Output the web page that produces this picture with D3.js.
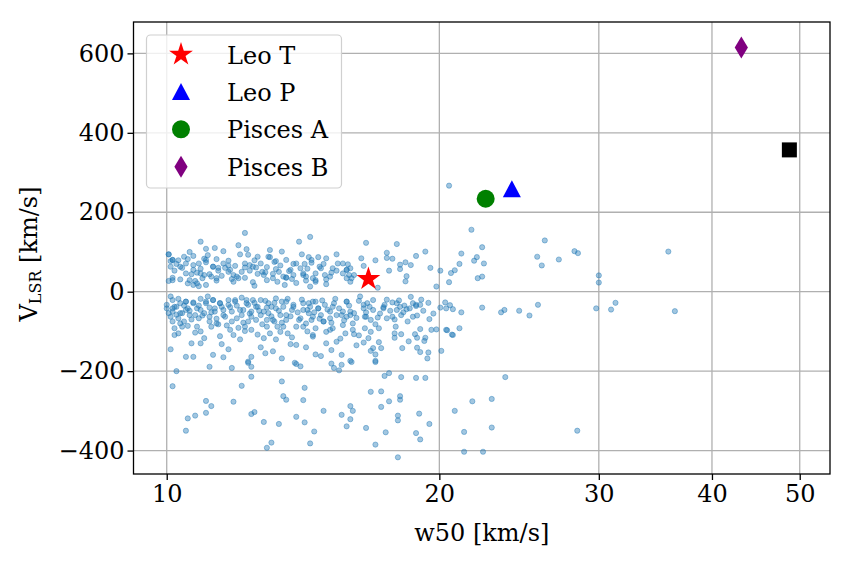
<!DOCTYPE html>
<html>
<head>
<meta charset="utf-8">
<script src="https://cdn.jsdelivr.net/npm/d3@7"></script>
<style>
  body { margin: 0; background: #fff; }
  svg text { font-family: "DejaVu Serif", serif; fill: #000; }
</style>
</head>
<body>
<div id="container"></div>
<script>
const width = 854,
  height = 562,
  margin = { left: 133.5, right: 24, top: 22, bottom: 88 };

/* DATA */
// background sample: [w50, vlsr]
const sample = [
  [12.2,148],[10.9,126],[12.0,117],[11.05,108],[12.25,107],[11.55,102],[10.05,94],[13.0,105],[14.0,126],[14.4,138],
  [13.4,101],[14.1,94],[14.7,87],[15.0,84],[15.4,94],[12.05,94],[12.3,93],[10.7,90],[10.55,82],[10.15,80],
  [10.1,77],[10.3,79],[11.0,83],[11.35,82],[11.7,78],[12.5,79],[13.0,87],[13.2,77],[13.55,80],[14.35,87],
  [12.7,71],[13.8,70],[14.45,73],[10.1,63],[10.2,53],[10.4,60],[10.7,67],[10.85,71],[11.05,74],[11.25,63],
  [11.4,60],[11.6,60],[11.9,65],[12.2,61],[12.35,67],[12.55,61],[13.2,57],[14.05,59],[14.3,58],[14.8,59],
  [15.25,59],[15.4,53],[10.5,46],[10.65,44],[10.8,48],[11.0,42],[11.15,44],[11.4,53],[11.7,50],[11.85,42],
  [12.35,53],[12.6,45],[12.85,49],[13.1,45],[13.3,50],[13.55,36],[13.8,42],[14.15,42],[14.6,46],[14.95,42],
  [10.15,35],[10.35,31],[10.6,29],[10.75,27],[10.95,34],[11.2,38],[10.7,17],[10.55,21],[10.05,27],[11.35,28],
  [11.8,32],[12.0,34],[12.2,35],[12.45,24],[12.5,15],[12.9,29],[13.25,25],[13.5,17],[13.55,35],[13.75,32],
  [14.25,38],[14.25,28],[14.5,34],[14.6,25],[14.4,13],[15.0,19],[15.0,31],[11.05,17],[10.85,14],
  [10.05,94],[10.15,80],[10.35,63],[10.5,71],[10.7,55],[10.9,46],[11.05,80],[11.25,63],[11.55,71],[11.75,55],
  [11.95,38],[12.2,71],[12.45,63],[12.75,50],[12.95,88],[13.15,75],[13.45,38],[13.7,55],[13.9,71],[14.15,46],
  [14.45,80],[14.75,63],[15.15,38],[15.45,71],[15.8,55],[16.0,34],[10.15,29],[10.8,21],[11.35,34],[11.85,25],
  [13.1,34],[14.6,29],
  [10.25,70],[10.45,88],[10.9,58],[11.1,92],[11.5,40],[11.7,66],[12.1,50],[12.6,88],[12.9,62],[13.35,66],
  [13.65,52],[14.2,70],[14.9,70],[15.2,48],[10.6,100],[11.3,110],[12.8,42],[13.9,22],
  [21.7,156],[16.6,123],[17.95,120],[22.3,112],[17.5,98],[19.3,101],[21.15,96],[16.4,84],[17.0,79],[17.5,85],
  [17.75,83],[18.85,90],[22.0,87],[21.85,78],[22.4,71],[15.65,71],[15.85,69],[18.1,68],[18.35,74],[18.6,67],
  [16.5,65],[15.95,59],[15.8,55],[19.55,60],[18.1,57],[17.6,53],[21.05,70],[20.8,54],[20.6,47],[20.05,53],
  [22.3,38],[22.05,34],[15.65,46],[15.9,42],[16.1,42],[15.8,34],[15.95,25],[18.4,39],[18.35,26],[17.1,10],
  [20.5,24],[19.85,13],[20.5,267],
  [26.15,129],[25.65,88],[25.95,66],[27.1,81],[28.2,102],[28.45,97],[30.0,41],[30.0,23],[35.8,101],
  [10.15,-21],[10.0,-42],[10.05,-54],[10.2,-38],[10.35,-29],[10.5,-46],[10.7,-27],[10.9,-18],[10.8,-42],[11.0,-54],
  [10.6,-59],[10.3,-67],[10.15,-75],[10.2,-92],[10.45,-75],[10.55,-86],[10.75,-103],[10.2,-109],[11.25,-21],[11.45,-29],
  [11.15,-40],[11.3,-50],[11.55,-46],[11.7,-33],[11.9,-21],[12.25,-21],[12.3,-33],[12.05,-46],[12.4,-50],[12.6,-38],
  [12.85,-23],[13.2,-17],[13.05,-38],[12.7,-59],[12.9,-71],[12.3,-75],[11.6,-63],[11.8,-75],[12.0,-91],[12.2,-99],
  [12.4,-96],[11.15,-75],[11.2,-88],[11.4,-82],[11.85,-109],[13.45,-38],[13.75,-46],[13.35,-59],[13.15,-75],[13.25,-88],
  [13.6,-105],[13.9,-88],[14.05,-67],[14.3,-46],[14.15,-29],[14.5,-25],[14.7,-42],[14.95,-33],[15.25,-38],[15.15,-67],
  [14.9,-75],[14.45,-71],[14.6,-92],[14.5,-113],[15.0,-101],[15.25,-92],[15.4,-126],[15.0,-130],[13.9,-134],[13.7,-132],
  [14.25,-140],[14.6,-158],[14.8,-162],[15.2,-147],[12.7,-140],[12.8,-117],[13.0,-105],[12.4,-164],[12.3,-176],[12.85,-155],
  [13.4,-168],[13.85,-179],[11.5,-132],[11.25,-159],[11.55,-165],[10.5,-164],[10.7,-164],[10.65,-130],[10.9,-130],[11.0,-117],
  [10.5,-25],[11.05,-25],[10.85,-67],[10.35,-54],[12.45,-21],[12.1,-59],[12.55,-71],[12.95,-54],[13.55,-71],[13.8,-33],
  [14.35,-54],[14.8,-59],[15.4,-59],[13.45,-88],
  [10.0,-33],[10.15,-50],[10.1,-63],[10.25,-38],[10.4,-54],[10.55,-42],[10.7,-29],[10.75,-59],[10.9,-46],[11.05,-29],
  [11.15,-63],[11.3,-42],[11.45,-29],[11.55,-59],[11.75,-39],[11.9,-25],[11.95,-67],[12.15,-46],[12.25,-29],[12.4,-63],
  [12.55,-38],[12.8,-50],[12.95,-29],[13.1,-71],[13.2,-42],[13.4,-25],[13.55,-59],[13.8,-38],[14.0,-71],[14.15,-46],
  [14.35,-29],[14.5,-63],[14.7,-42],[14.9,-75],[15.15,-50],[15.3,-29],[15.6,-59],[15.8,-25],[15.95,-50],[10.35,-80],
  [10.8,-88],[11.35,-80],[11.75,-96],[12.2,-88],[12.9,-88],[13.35,-101],[14.15,-88],[14.5,-109],[15.15,-96],[10.15,-42],
  [10.5,-25],[11.25,-21],[11.7,-21],[12.7,-21],[13.55,-25],[14.6,-25],[16.5,-33],[16.9,-46],[17.35,-39],[17.95,-29],
  [18.4,-44],[18.85,-36],[16.6,-63],[17.5,-67],[18.7,-63],
  [10.1,-12],[10.3,-18],[10.45,-35],[10.6,-48],[10.25,-58],[10.4,-88],[10.65,-70],[10.85,-35],[10.95,-60],[11.1,-12],
  [11.2,-52],[11.35,-68],[11.5,-38],[11.65,-85],[11.8,-50],[11.95,-35],[12.1,-15],[12.15,-78],[12.35,-55],[12.5,-28],
  [12.65,-48],[12.75,-82],[12.9,-40],[13.05,-62],[13.15,-28],[13.3,-48],[13.4,-78],[13.6,-18],[13.7,-62],[13.95,-52],
  [14.1,-20],[14.25,-80],[14.4,-38],[14.55,-52],[14.75,-68],[14.85,-22],[15.05,-45],[15.2,-78],[15.35,-18],[15.5,-42],
  [15.7,-72],[15.9,-35],[16.2,-66],[16.35,-12],[16.6,-52],[16.75,-38],[17.0,-82],[17.2,-55],[17.5,-20],[17.65,-48],
  [17.85,-70],[18.05,-22],[18.25,-52],[18.55,-42],[18.9,-60],[19.2,-48],[19.45,-28],[19.7,-55],
  [10.3,-105],[10.9,-100],[11.45,-112],[12.05,-120],[12.6,-108],[13.2,-120],[13.75,-115],[14.3,-100],[15.55,-118],[16.3,-110],
  [10.1,-145],[11.7,-145],[13.1,-150],[16.2,-135],[18.5,-125],
  [15.8,-25],[16.3,-23],[16.65,-29],[16.9,-21],[15.65,-50],[15.95,-59],[16.1,-54],[15.8,-63],[16.5,-42],[16.55,-63],
  [16.8,-71],[16.05,-80],[15.65,-84],[16.05,-96],[15.75,-105],[16.1,-107],[16.55,-92],[16.8,-101],[17.15,-92],[16.7,-117],
  [16.5,-128],[17.15,-127],[17.25,-142],[16.9,-142],[16.8,-149],[17.0,-158],[18.2,-142],[17.35,-42],[17.4,-33],[17.75,-27],
  [17.95,-46],[18.1,-38],[18.3,-35],[18.6,-13],[18.7,-29],[18.85,-33],[19.1,-20],[19.05,-33],[18.15,-59],[17.75,-63],
  [17.1,-65],[18.45,-75],[17.9,-88],[17.85,-105],[18.15,-107],[17.85,-116],[19.05,-94],[18.8,-107],[18.9,-116],[19.3,-116],
  [19.25,-124],[19.5,-69],[19.6,-96],[19.85,-95],[18.9,-141],[19.05,-152],[19.45,-153],[19.4,-168],[20.1,-149],[20.05,-40],
  [20.3,-27],[20.55,-34],[20.35,-42],[20.7,-44],[21.15,-52],[22.3,-40],[23.4,-52],[23.6,-46],[24.5,-48],[20.35,-96],
  [21.05,-92],[20.7,-109],[15.95,-174],[17.0,-174],[15.6,-159],
  [25.15,-60],[25.7,-33],[29.8,-42],[30.95,-45],[31.3,-28],[36.4,-49],[20.4,-97],[20.65,-108],[28.4,-350],[21.75,-276],
  [22.85,-270],[20.8,-300],[21.3,-353],[22.85,-342],[21.3,-403],[22.35,-403],[23.65,-215],
  [10.25,-200],[11.15,-189],[11.8,-192],[12.3,-179],[12.4,-189],[13.9,-182],[14.05,-188],[15.2,-181],[15.3,-192],[10.15,-238],
  [12.4,-214],[12.1,-237],[13.4,-226],[14.2,-242],[11.05,-275],[11.2,-288],[11.85,-277],[13.45,-263],[13.55,-272],[14.15,-273],
  [10.55,-319],[10.75,-312],[11.05,-305],[10.5,-350],[12.4,-308],[12.5,-303],[12.8,-328],[13.3,-333],[13.9,-315],[14.2,-329],
  [14.9,-300],[14.55,-352],[13.05,-380],[12.9,-393],[14.4,-382],
  [15.6,-184],[16.0,-177],[17.0,-177],[15.5,-198],[17.4,-212],[17.6,-205],[18.15,-215],[18.85,-217],[19.3,-217],[16.8,-252],
  [17.25,-251],[18.1,-263],[18.1,-272],[17.6,-276],[17.25,-290],[15.95,-288],[16.05,-300],[15.6,-310],[15.95,-321],[15.8,-339],
  [16.6,-343],[18.0,-312],[18.0,-324],[19.0,-307],[19.5,-333],[17.45,-354],[18.85,-356],[19.05,-372],[17.0,-385],[18.0,-417]
];

// named galaxies
const galaxyNames = ["Leo T", "Leo P", "Pisces A", "Pisces B"];
const galaxyW50 = [16.7, 24.05, 22.5, 43.1];
const galaxyVlsr = [32, 258, 234, 615];
const galaxyColors = ["red", "blue", "green", "purple"];
const galaxyShapes = ["star", "triangle", "circle", "diamond"];

// unlabelled extra object (black square)
const extraW50 = [48.7];
const extraVlsr = [357];

const xTicks = [10, 20, 30, 40, 50];
const yTicks = [-400, -200, 0, 200, 400, 600];

/* SCALES */
const xScale = d3.scaleLog()
  .domain([9.19, 54.0])
  .range([margin.left, width - margin.right])

const yScale = d3.scaleLinear()
  .domain([-459, 679])
  .range([height - margin.bottom, margin.top])

const svg = d3.select("#container").append("svg")
  .attr("width", width)
  .attr("height", height)

const plotW = width - margin.right - margin.left,
  plotH = height - margin.bottom - margin.top

// grid
const grid = svg.append("g").attr("class", "grid")
grid.selectAll("line.gx")
  .data(xTicks)
  .join("line")
  .attr("class", "gx")
  .attr("x1", d => xScale(d)).attr("x2", d => xScale(d))
  .attr("y1", margin.top).attr("y2", height - margin.bottom)
  .attr("stroke", "#b0b0b0").attr("stroke-width", 1.3)
grid.selectAll("line.gy")
  .data(yTicks)
  .join("line")
  .attr("class", "gy")
  .attr("y1", d => yScale(d)).attr("y2", d => yScale(d))
  .attr("x1", margin.left).attr("x2", width - margin.right)
  .attr("stroke", "#b0b0b0").attr("stroke-width", 1.3)

// shapes, sizes in px
function shapePath(shape, s) {
  if (shape === "star") return d3.symbol(d3.symbolStar, (s / 2) * (s / 2) / 0.89)()
  if (shape === "triangle") {
    const h = s / 2
    return `M0,${-h}L${h},${h * 0.9}L${-h},${h * 0.9}Z`
  }
  if (shape === "diamond") {
    const h = s / 2
    return `M0,${-h}L${h * 0.6},0L0,${h}L${-h * 0.6},0Z`
  }
  if (shape === "square") {
    const h = s / 2
    return `M${-h},${-h}H${h}V${h}H${-h}Z`
  }
  return d3.symbol(d3.symbolCircle, Math.PI * (s / 2) * (s / 2))()
}
const shapeSize = { star: 25, triangle: 18, circle: 18, diamond: 22, square: 15 }

const plot = svg.append("g")

plot.selectAll("circle.dot")
  .data(sample)
  .join("circle")
  .attr("class", "dot")
  .attr("cx", d => xScale(d[0]))
  .attr("cy", d => yScale(d[1]))
  .attr("r", 2.6)
  .attr("fill", "#1f77b4")
  .attr("fill-opacity", 0.42)
  .attr("stroke", "#1f77b4")
  .attr("stroke-opacity", 0.42)
  .attr("stroke-width", 1)

const galaxies = galaxyNames.map((name, i) => ({
  name, w50: galaxyW50[i], v: galaxyVlsr[i], color: galaxyColors[i], shape: galaxyShapes[i]
}))

plot.selectAll("path.gal")
  .data(galaxies)
  .join("path")
  .attr("class", "gal")
  .attr("d", d => shapePath(d.shape, shapeSize[d.shape]))
  .attr("transform", d => `translate(${xScale(d.w50)},${yScale(d.v)})`)
  .attr("fill", d => d.color)

plot.selectAll("path.extra")
  .data(extraW50.map((w, i) => ({ w50: w, v: extraVlsr[i] })))
  .join("path")
  .attr("class", "extra")
  .attr("d", shapePath("square", shapeSize.square))
  .attr("transform", d => `translate(${xScale(d.w50)},${yScale(d.v)})`)
  .attr("fill", "black")

// frame
svg.append("rect")
  .attr("x", margin.left).attr("y", margin.top)
  .attr("width", plotW).attr("height", plotH)
  .attr("fill", "none").attr("stroke", "black").attr("stroke-width", 1.3)

// axes
const xAxis = d3.axisBottom(xScale)
  .tickValues(xTicks)
  .tickFormat(d3.format("d"))
  .tickSize(6).tickPadding(5)
const yAxis = d3.axisLeft(yScale)
  .tickValues(yTicks)
  .tickFormat(d => d < 0 ? "\u2212" + Math.abs(d) : d)
  .tickSize(6).tickPadding(3)

svg.append("g")
  .attr("class", "x-axis")
  .attr("transform", `translate(0,${height - margin.bottom})`)
  .call(xAxis)
  .call(g => g.select(".domain").remove())

svg.append("g")
  .attr("class", "y-axis")
  .attr("transform", `translate(${margin.left},0)`)
  .call(yAxis)
  .call(g => g.select(".domain").remove())

svg.selectAll(".tick line").attr("stroke", "black").attr("stroke-width", 1.3)
svg.selectAll(".tick text")
  .attr("font-family", "DejaVu Serif")
  .attr("font-size", 24)
  .attr("fill", "black")

svg.append("text")
  .attr("class", "xAxisLabel")
  .attr("x", margin.left + plotW / 2)
  .attr("y", 541)
  .attr("text-anchor", "middle")
  .attr("font-size", 24)
  .text("w50 [km/s]")

const yl = svg.append("text")
  .attr("class", "yAxisLabel")
  .attr("transform", `translate(37,254) rotate(-90)`)
  .attr("text-anchor", "middle")
  .attr("font-size", 24)
yl.append("tspan").text("V")
yl.append("tspan").attr("font-size", 16).attr("dy", 4).text("LSR")
yl.append("tspan").attr("dy", -4).text(" [km/s]")

// legend
const legend = svg.append("g").attr("class", "legend")
legend.append("rect")
  .attr("x", 146.5).attr("y", 35)
  .attr("width", 195).attr("height", 153)
  .attr("rx", 4)
  .attr("fill", "white").attr("fill-opacity", 0.8)
  .attr("stroke", "#d0d0d0").attr("stroke-width", 1.2)

const rows = legend.selectAll("g.row")
  .data(galaxies)
  .join("g")
  .attr("class", "row")
  .attr("transform", (d, i) => `translate(181,${54.5 + i * 37.4})`)

rows.append("path")
  .attr("d", d => shapePath(d.shape, shapeSize[d.shape]))
  .attr("fill", d => d.color)

rows.append("text")
  .attr("x", 46)
  .attr("y", 9)
  .attr("font-size", 24)
  .text(d => d.name)
</script>
</body>
</html>
